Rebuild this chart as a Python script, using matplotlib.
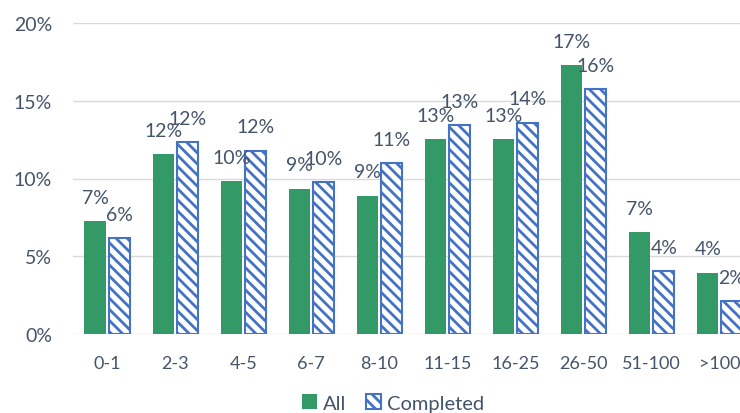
import matplotlib
matplotlib.use('Agg')
import matplotlib.pyplot as plt
import numpy as np

categories = ['0-1', '2-3', '4-5', '6-7', '8-10', '11-15', '16-25', '26-50', '51-100', '>100']
all_vals = [7.25, 11.6, 9.85, 9.35, 8.9, 12.55, 12.55, 17.3, 6.55, 3.95]
completed_vals = [6.15, 12.35, 11.8, 9.75, 11.0, 13.45, 13.6, 15.75, 4.05, 2.1]

green = '#339966'
blue = '#4472C4'
text_col = '#44546A'

plt.rcParams['font.family'] = ['Lato', 'DejaVu Sans']
plt.rcParams['hatch.color'] = blue
plt.rcParams['hatch.linewidth'] = 2.0

fig = plt.figure(figsize=(7.4, 4.14), dpi=100)
ax = fig.add_axes([73/740, (414-335)/414, 681/740, (335-24)/414])

x = np.arange(len(categories))
w = 0.31
gap = 0.045
b1 = ax.bar(x - (w + gap)/2, all_vals, w, color=green, label='All', zorder=3)
b2 = ax.bar(x + (w + gap)/2, completed_vals, w, facecolor='white', edgecolor=blue,
            linewidth=1.5, hatch='\\\\\\', label='Completed', zorder=3)

for bars, vals in ((b1, all_vals), (b2, completed_vals)):
    for r, v in zip(bars, vals):
        ax.annotate('{:.0f}%'.format(v), (r.get_x() + r.get_width()/2, v),
                    xytext=(0, 17), textcoords='offset points', ha='center', va='center',
                    fontsize=14, color=text_col, annotation_clip=False)

ax.set_xlim(-0.5, len(categories) - 0.5)
ax.set_ylim(0, 20)
ax.set_yticks([0, 5, 10, 15, 20])
ax.set_yticklabels(['{}%'.format(t) for t in [0, 5, 10, 15, 20]])
ax.set_xticks(x)
ax.set_xticklabels(categories)
ax.tick_params(length=0, labelsize=14, labelcolor=text_col, pad=15)
ax.tick_params(axis='x', labelsize=13)
ax.tick_params(axis='y', pad=15)
ax.grid(axis='y', color='#D9D9D9', linewidth=1, zorder=0)
for s in ax.spines.values():
    s.set_visible(False)

fig.legend(handles=[b1, b2], labels=['All', 'Completed'], loc='center',
           bbox_to_anchor=(393/740, 1 - 404/414), ncol=2, frameon=False,
           fontsize=14.5, labelcolor=text_col, handlelength=0.75, handleheight=0.75,
           handletextpad=0.3, columnspacing=1.0, borderpad=0)

fig.savefig('out.png', dpi=100)
